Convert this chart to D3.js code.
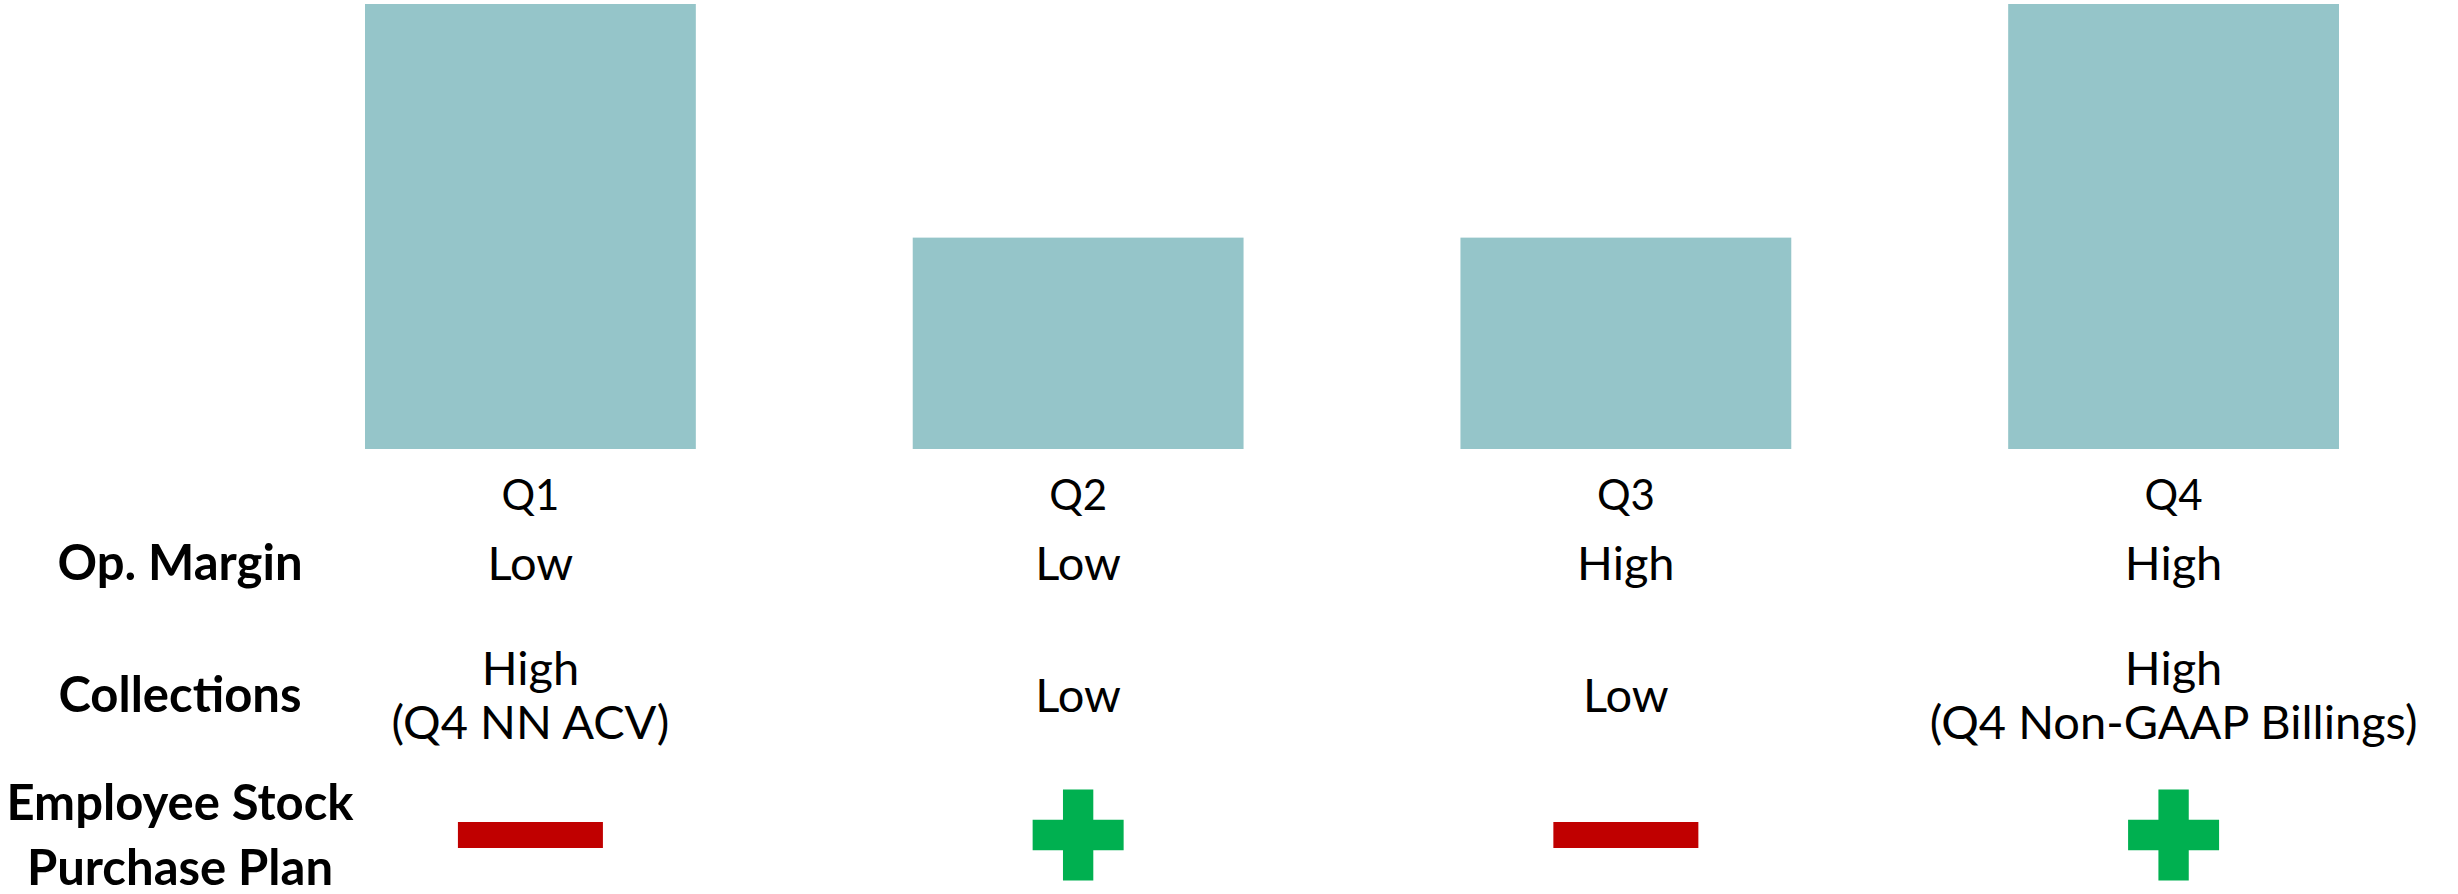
<!DOCTYPE html>
<html>
<head>
<meta charset="utf-8">
<script src="https://cdn.jsdelivr.net/npm/d3@7"></script>
<style>
  body { margin: 0; background: #fff; }
  text { font-family: Lato, "Open Sans", sans-serif; fill: #000; }
</style>
</head>
<body>
<div id="chart"></div>
<script>
const quarters = ["Q1", "Q2", "Q3", "Q4"];
const barValues = [100, 47.5, 47.5, 100];
const opMargin = ["Low", "Low", "High", "High"];
const collections = [
  ["High", "(Q4 NN ACV)"],
  ["Low"],
  ["Low"],
  ["High", "(Q4 Non-GAAP Billings)"],
];
// -1 = minus sign, +1 = plus sign
const esppSigns = [-1, 1, -1, 1];
const rowLabels = [["Op. Margin"], ["Collections"], ["Employee Stock", "Purchase Plan"]];

const width = 2458;
const height = 894;

const svg = d3
  .select("#chart")
  .append("svg")
  .attr("width", width)
  .attr("height", height);

const xScale = d3
  .scaleBand()
  .domain(quarters)
  .range([365, 2339])
  .paddingInner(0.396)
  .paddingOuter(0);

const yScale = d3.scaleLinear().domain([0, 100]).range([449, 4]);

// bars
svg
  .selectAll(".bar")
  .data(quarters)
  .join("rect")
  .attr("class", "bar")
  .attr("x", (d) => xScale(d))
  .attr("width", xScale.bandwidth())
  .attr("y", (d, i) => yScale(barValues[i]))
  .attr("height", (d, i) => yScale(0) - yScale(barValues[i]))
  .attr("fill", "#95c5c9");

// quarter labels
const xAxis = d3.axisBottom(xScale).tickSize(0).tickPadding(0);
const xAxisGroup = svg
  .append("g")
  .attr("class", "x-axis")
  .attr("transform", `translate(0, ${yScale(0)})`)
  .call(xAxis);
xAxisGroup.select(".domain").remove();
xAxisGroup
  .selectAll("text")
  .attr("y", 510 - yScale(0))
  .attr("dy", 0)
  .style("font-family", "Lato, sans-serif")
  .style("font-size", "42px")
  .attr("fill", "#000");

const cx = (d) => xScale(d) + xScale.bandwidth() / 2;
const labelX = 180;

// row centres (middle of capital letters)
const rowY = [563, 695, 835];
const capHalf = 17;

// left row labels
const labelLineH = 65;
svg
  .selectAll(".row-label")
  .data(rowLabels)
  .join("text")
  .attr("class", "row-label")
  .attr("text-anchor", "middle")
  .style("font-size", "49px")
  .style("font-weight", "700")
  .each(function (lines, r) {
    const top = rowY[r] + capHalf - ((lines.length - 1) * labelLineH) / 2;
    d3.select(this)
      .selectAll("tspan")
      .data(lines)
      .join("tspan")
      .attr("x", labelX)
      .attr("y", (l, j) => top + j * labelLineH)
      .text((l) => l);
  });

// op. margin row
svg
  .selectAll(".op-margin")
  .data(quarters)
  .join("text")
  .attr("class", "op-margin")
  .attr("x", cx)
  .attr("y", rowY[0] + capHalf)
  .attr("text-anchor", "middle")
  .style("font-size", "47px")
  .text((d, i) => opMargin[i]);

// collections row
const valueLineH = 54;
svg
  .selectAll(".collections")
  .data(quarters)
  .join("text")
  .attr("class", "collections")
  .attr("text-anchor", "middle")
  .style("font-size", "47px")
  .each(function (q, i) {
    const lines = collections[i];
    const top = rowY[1] + capHalf - ((lines.length - 1) * valueLineH) / 2;
    d3.select(this)
      .selectAll("tspan")
      .data(lines)
      .join("tspan")
      .attr("x", cx(q))
      .attr("y", (l, j) => top + j * valueLineH)
      .text((l) => l);
  });

// employee stock purchase plan signs
const plus = d3.symbol().type(d3.symbolCross).size(4600);
const signs = svg
  .selectAll(".espp")
  .data(quarters)
  .join("g")
  .attr("class", "espp")
  .attr("transform", (d) => `translate(${cx(d)},${rowY[2]})`);

signs
  .filter((d, i) => esppSigns[i] > 0)
  .append("path")
  .attr("d", plus)
  .attr("fill", "#00b050");

signs
  .filter((d, i) => esppSigns[i] < 0)
  .append("rect")
  .attr("x", -72.5)
  .attr("y", -13)
  .attr("width", 145)
  .attr("height", 26)
  .attr("fill", "#c00000");
</script>
</body>
</html>
